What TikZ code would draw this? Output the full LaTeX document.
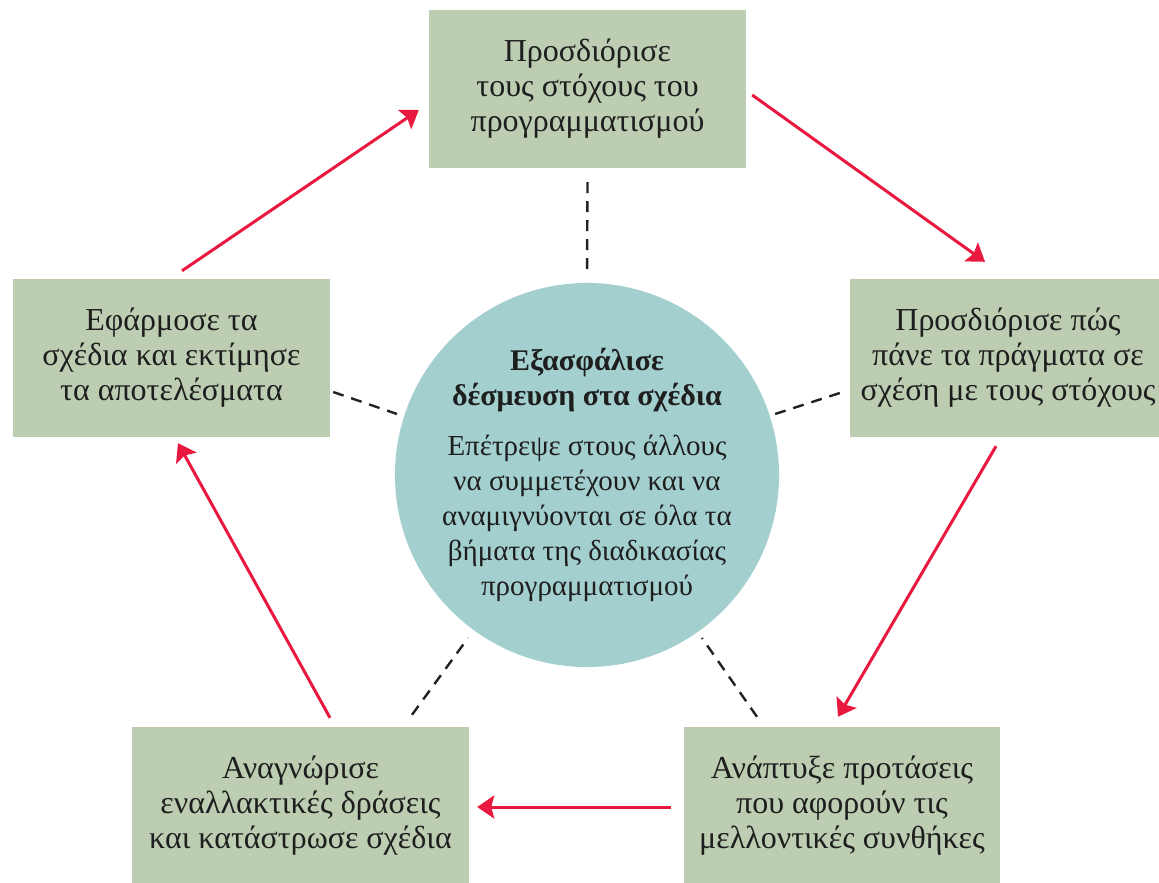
\documentclass[tikz,border=0pt]{standalone}
\usepackage{fontspec}
\setmainfont{Liberation Serif}
\usetikzlibrary{arrows.meta,calc}
\definecolor{boxgreen}{HTML}{BDCDB2}
\definecolor{circteal}{HTML}{A3CFCF}
\definecolor{arrred}{HTML}{E9183F}
\definecolor{dashgray}{HTML}{222222}
\definecolor{inkc}{HTML}{1E1E1E}
\tikzset{
  stepbox/.style={rectangle, fill=boxgreen, draw=none, minimum height=158pt, align=center, inner sep=0pt, text=inkc, font=\fontsize{32}{35}\selectfont},
  centre/.style={circle, fill=circteal, draw=none, minimum size=382pt, inner sep=0pt, align=center, text=inkc, font=\fontsize{29}{35}\selectfont},
  flow/.style={draw=arrred, line width=3pt, -{Stealth[length=17pt,width=23pt,inset=3pt]}},
  link/.style={draw=dashgray, line width=2.4pt, dash pattern=on 11pt off 8pt}
}
\begin{document}
\begin{tikzpicture}[x=1pt,y=-1pt]
\useasboundingbox (0,0) rectangle (1159,883);
\clip (0,0) rectangle (1159,883);
\node[stepbox, minimum width=317pt] (goals) at (587.5,89) {Προσδιόρισε\\τους στόχους του\\προγραμματισμού};
\node[stepbox, minimum width=316pt] (monitor) at (1008,358) {Προσδιόρισε πώς\\πάνε τα πράγματα σε\\σχέση με τους στόχους};
\node[stepbox, minimum width=316pt] (develop) at (842,806) {Ανάπτυξε προτάσεις\\που αφορούν τις\\μελλοντικές συνθήκες};
\node[stepbox, minimum width=337pt] (identify) at (300.5,806) {Αναγνώρισε\\εναλλακτικές δράσεις\\και κατάστρωσε σχέδια};
\node[stepbox, minimum width=317pt] (implement) at (171.5,358) {Εφάρμοσε τα\\σχέδια και εκτίμησε\\τα αποτελέσματα};
\node[centre] (commit) at (587,475) {{\fontsize{30}{35}\selectfont\bfseries Εξασφάλισε}\\{\fontsize{30}{35}\selectfont\bfseries δέσμευση στα σχέδια}\\[15pt]Επέτρεψε στους άλλους\\να συμμετέχουν και να\\αναμιγνύονται σε όλα τα\\βήματα της διαδικασίας\\προγραμματισμού};
% flow arrows
\draw[flow] ($(implement.north)+(10.5,-8)$) -- ($(goals.west)+(-10,21)$);
\draw[flow] ($(goals.east)+(6,6)$) -- ($(monitor.north)+(-23,-17)$);
\draw[flow] ($(monitor.south)+(-12,9)$) -- ($(develop.north)+(-4,-10)$);
\draw[flow] ($(develop.west)+(-13,1)$) -- ($(identify.east)+(8,1)$);
\draw[flow] ($(identify.north)+(29.5,-9)$) -- ($(implement.south)+(6.5,6)$);
% dashed links
\draw[link] ($(goals.south)+(0,14)$) -- ($(commit.center)+(0,-198)$);
\draw[link] ($(monitor.west)+(-10,35)$) -- ($(commit.center)+(185,-60)$);
\draw[link] ($(implement.east)+(3,34)$) -- ($(commit.center)+(-190,-61)$);
\draw[link] ($(identify.north)+(111.5,-12)$) -- ($(commit.center)+(-119,163)$);
\draw[link] ($(develop.north)+(-85,-10)$) -- ($(commit.center)+(115,163)$);
\end{tikzpicture}
\end{document}
